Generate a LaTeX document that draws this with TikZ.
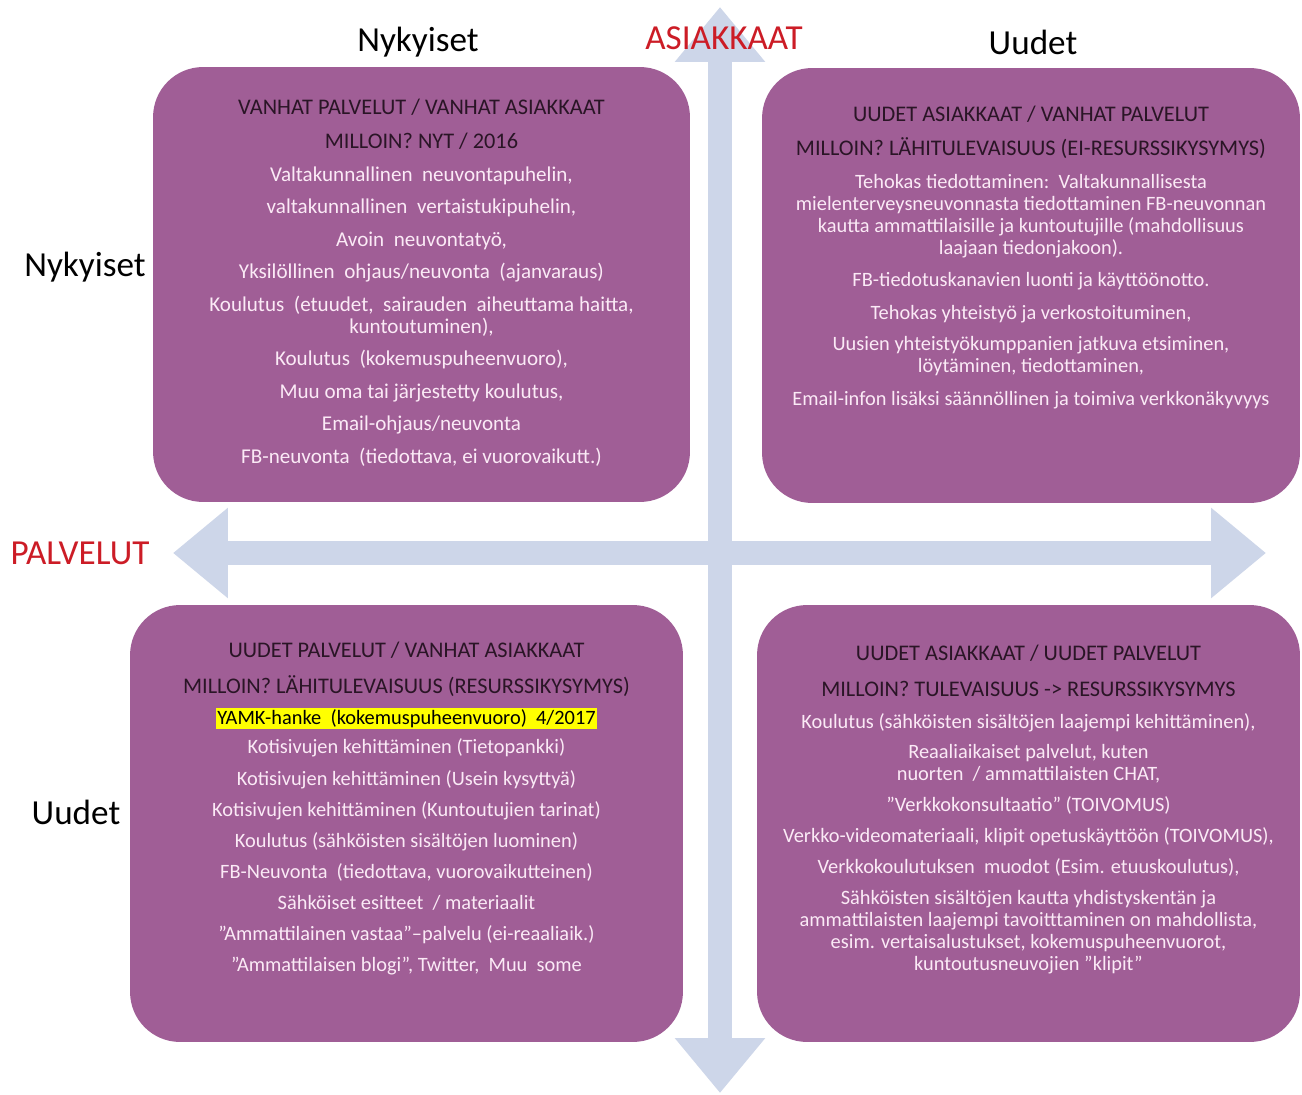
\documentclass[tikz,border=0pt]{standalone}
\usepackage{fontspec}
\setmainfont{Carlito}
\usepackage{tikz}
\usetikzlibrary{arrows.meta,positioning}
\definecolor{boxpurple}{HTML}{A05E96}
\definecolor{axisblue}{HTML}{CDD6E9}
\definecolor{axisred}{HTML}{CC1C26}
\definecolor{headdark}{HTML}{2A1526}
\definecolor{bodylight}{HTML}{FBEAF6}
\definecolor{hlyellow}{HTML}{FFFF00}
\newcommand{\otsikko}[1]{{\fontsize{12.7}{12.5}\selectfont\textcolor{headdark}{#1}}}
\newcommand{\korostus}[1]{{\setlength{\fboxsep}{0.6pt}\colorbox{hlyellow}{\textcolor{black}{#1}}}}

\begin{document}
\begin{tikzpicture}[x=0.02cm,y=-0.02cm,
  box/.style={rounded corners=1cm,fill=boxpurple,inner sep=0pt},
  txt/.style={align=center,inner sep=0pt,anchor=north,text=bodylight,font=\fontsize{12}{12.5}\selectfont},
  txtsmall/.style={txt,font=\fontsize{11.6}{12.5}\selectfont},
  axlab/.style={font=\fontsize{20}{24}\selectfont,inner sep=0pt},
  axisarr/.style={axisblue,line width=0.48cm,{Triangle[length=1.1cm,width=1.74cm]}-{Triangle[length=1.1cm,width=1.74cm]}}]
\path[use as bounding box,fill=white] (0,0) rectangle (1302,1095);
% axes
\coordinate (atop) at (720,7);
\coordinate (abot) at (720,1093);
\coordinate (pleft) at (173,553);
\coordinate (pright) at (1266,553);
\draw[axisarr] (abot) -- (atop);
\draw[axisarr] (pleft) -- (pright);
% quadrants
\node[box,minimum width=10.74cm,minimum height=8.7cm] (vanhat) at (421.5,284.5) {};
\node[box,minimum width=10.76cm,minimum height=8.7cm] (uudasiak) at (1031,285.5) {};
\node[box,minimum width=11.06cm,minimum height=8.74cm] (uudpalv) at (406.5,823.5) {};
\node[box,minimum width=10.86cm,minimum height=8.74cm] (uudet) at (1028.5,823.5) {};
\node[txt] (vanhat-t) at ([yshift=-0.64cm]vanhat.north) {%
  \otsikko{VANHAT PALVELUT / VANHAT ASIAKKAAT}\\[6.8pt]
  \otsikko{MILLOIN? NYT / 2016}\\[6.3pt]
  Valtakunnallinen\ \ neuvontapuhelin,\\[6pt]
  valtakunnallinen\ \ vertaistukipuhelin,\\[6pt]
  Avoin\ \ neuvontatyö,\\[6pt]
  Yksilöllinen\ \ ohjaus/neuvonta\ \ (ajanvaraus)\\[6pt]
  Koulutus\ \ (etuudet,\ \ sairauden\ \ aiheuttama haitta,\\
  kuntoutuminen),\\[6pt]
  Koulutus\ \ (kokemuspuheenvuoro),\\[6pt]
  Muu oma tai järjestetty koulutus,\\[6pt]
  Email-ohjaus/neuvonta\\[6pt]
  FB-neuvonta\ \ (tiedottava, ei vuorovaikutt.)};
\node[txtsmall] (uudasiak-t) at ([yshift=-0.76cm]uudasiak.north) {%
  \otsikko{UUDET ASIAKKAAT / VANHAT PALVELUT}\\[6.8pt]
  \otsikko{MILLOIN? LÄHITULEVAISUUS (EI-RESURSSIKYSYMYS)}\\[6.3pt]
  Tehokas tiedottaminen:\ \ Valtakunnallisesta\\
  mielenterveysneuvonnasta tiedottaminen FB-neuvonnan\\
  kautta ammattilaisille ja kuntoutujille (mahdollisuus\\
  laajaan tiedonjakoon).\\[6pt]
  FB-tiedotuskanavien luonti ja käyttöönotto.\\[6pt]
  Tehokas yhteistyö ja verkostoituminen,\\[5.5pt]
  Uusien yhteistyökumppanien jatkuva etsiminen,\\
  löytäminen, tiedottaminen,\\[6pt]
  Email-infon lisäksi säännöllinen ja toimiva verkkonäkyvyys};
\node[txtsmall] (uudpalv-t) at ([yshift=-0.74cm]uudpalv.north) {%
  \otsikko{UUDET PALVELUT / VANHAT ASIAKKAAT}\\[8pt]
  \otsikko{MILLOIN? LÄHITULEVAISUUS (RESURSSIKYSYMYS)}\\[5pt]
  \korostus{YAMK-hanke\ \ (kokemuspuheenvuoro)\ \ 4/2017}\\[4.4pt]
  Kotisivujen kehittäminen (Tietopankki)\\[5.2pt]
  Kotisivujen kehittäminen (Usein kysyttyä)\\[5.2pt]
  Kotisivujen kehittäminen (Kuntoutujien tarinat)\\[5.2pt]
  Koulutus (sähköisten sisältöjen luominen)\\[5.2pt]
  FB-Neuvonta\ \ (tiedottava, vuorovaikutteinen)\\[5.2pt]
  Sähköiset esitteet\ \ / materiaalit\\[5.2pt]
  ”Ammattilainen vastaa”–palvelu (ei-reaaliaik.)\\[5.2pt]
  ”Ammattilaisen blogi”, Twitter,\ \ Muu\ \ some};
\node[txtsmall] (uudet-t) at ([yshift=-0.8cm]uudet.north) {%
  \otsikko{UUDET ASIAKKAAT / UUDET PALVELUT}\\[8pt]
  \otsikko{MILLOIN? TULEVAISUUS -> RESURSSIKYSYMYS}\\[5.7pt]
  Koulutus (sähköisten sisältöjen laajempi kehittäminen),\\[4.6pt]
  Reaaliaikaiset palvelut, kuten\\
  nuorten\ \ / ammattilaisten CHAT,\\[5.2pt]
  ”Verkkokonsultaatio” (TOIVOMUS)\\[5.2pt]
  Verkko-videomateriaali, klipit opetuskäyttöön (TOIVOMUS),\\[5.2pt]
  Verkkokoulutuksen\ \ muodot (Esim. etuuskoulutus),\\[5.2pt]
  Sähköisten sisältöjen kautta yhdistyskentän ja\\
  ammattilaisten laajempi tavoitttaminen on mahdollista,\\
  esim. vertaisalustukset, kokemuspuheenvuorot,\\
  kuntoutusneuvojien ”klipit”};
% axis labels
\node[axlab] (nyk-top) at (418,42) {Nykyiset};
\node[axlab] (uud-top) at (1033,42) {Uudet};
\node[axlab,text=axisred] (asiakkaat) at (724,38) {ASIAKKAAT};
\node[axlab] (nyk-left) at (85,267) {Nykyiset};
\node[axlab,text=axisred] (palvelut) at (80,553) {PALVELUT};
\node[axlab] (uud-left) at (76,812) {Uudet};
\end{tikzpicture}
\end{document}
